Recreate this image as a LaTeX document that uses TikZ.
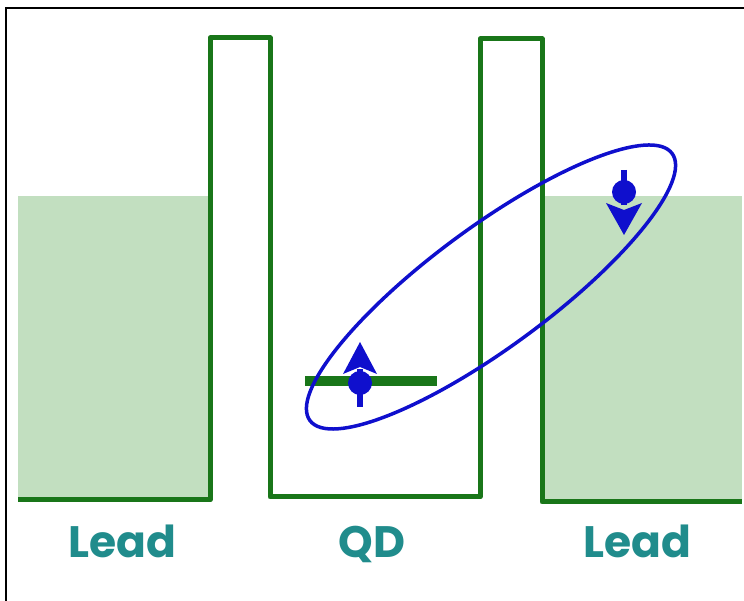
\documentclass[tikz,border=0pt]{standalone}
\usepackage{fontspec}
\newfontfamily\labelfont{Poppins}
\definecolor{wellgreen}{RGB}{25,118,25}
\definecolor{leadfill}{RGB}{194,223,192}
\definecolor{spinblue}{RGB}{15,15,205}
\definecolor{labelteal}{RGB}{32,140,140}
\tikzset{
  wall/.style={draw=wellgreen, line width=5pt, line join=round},
  leadbox/.style={fill=leadfill, draw=none},
  pairloop/.style={draw=spinblue, line width=3.5pt},
  spinpart/.style={fill=spinblue, draw=none},
  spinstem/.style={draw=spinblue, line width=6pt},
  leadlabel/.style={text=labelteal, font=\labelfont\bfseries\fontsize{44}{50}\selectfont, anchor=base, inner sep=0pt}
}
\begin{document}
\begin{tikzpicture}[x=1pt,y=1pt]
\useasboundingbox (0,0) rectangle (744,601);
\fill[white] (0,0) rectangle (744,601);
% frame
\draw[black, line width=2pt] (6,0) -- (6,593) -- (744,593);
% lead fills
\fill[leadbox] (18,101) rectangle (210,405);
\fill[leadbox] (542,99) rectangle (742,405);
% potential profile
\draw[wall] (18,101) -- (210,101) -- (210,563) -- (270,563) -- (270,104) -- (480,104) -- (480,562) -- (542,562) -- (542,99) -- (742,99);
% dot level
\draw[draw=wellgreen, line width=10pt] (305,220) -- (437,220);
% entangled pair ellipse
\draw[pairloop] (491,314) ellipse [x radius=225, y radius=60, rotate=36.4];
% spin up on dot
\coordinate (su) at (360,218);
\draw[spinstem] (360,194) -- (360,232);
\fill[spinpart] (su) circle (12);
\fill[spinpart] (360,259) -- (377,227) -- (360,234) -- (343,227) -- cycle;
% spin down in lead
\coordinate (sd) at (624,409);
\draw[spinstem] (624,431) -- (624,396);
\fill[spinpart] (sd) circle (12);
\fill[spinpart] (624,366) -- (642,398) -- (624,391) -- (606,398) -- cycle;
% labels
\node[leadlabel] (l1) at (122,43) {Lead};
\node[leadlabel] (l2) at (372,43) {QD};
\node[leadlabel] (l3) at (637,43) {Lead};
\end{tikzpicture}
\end{document}
